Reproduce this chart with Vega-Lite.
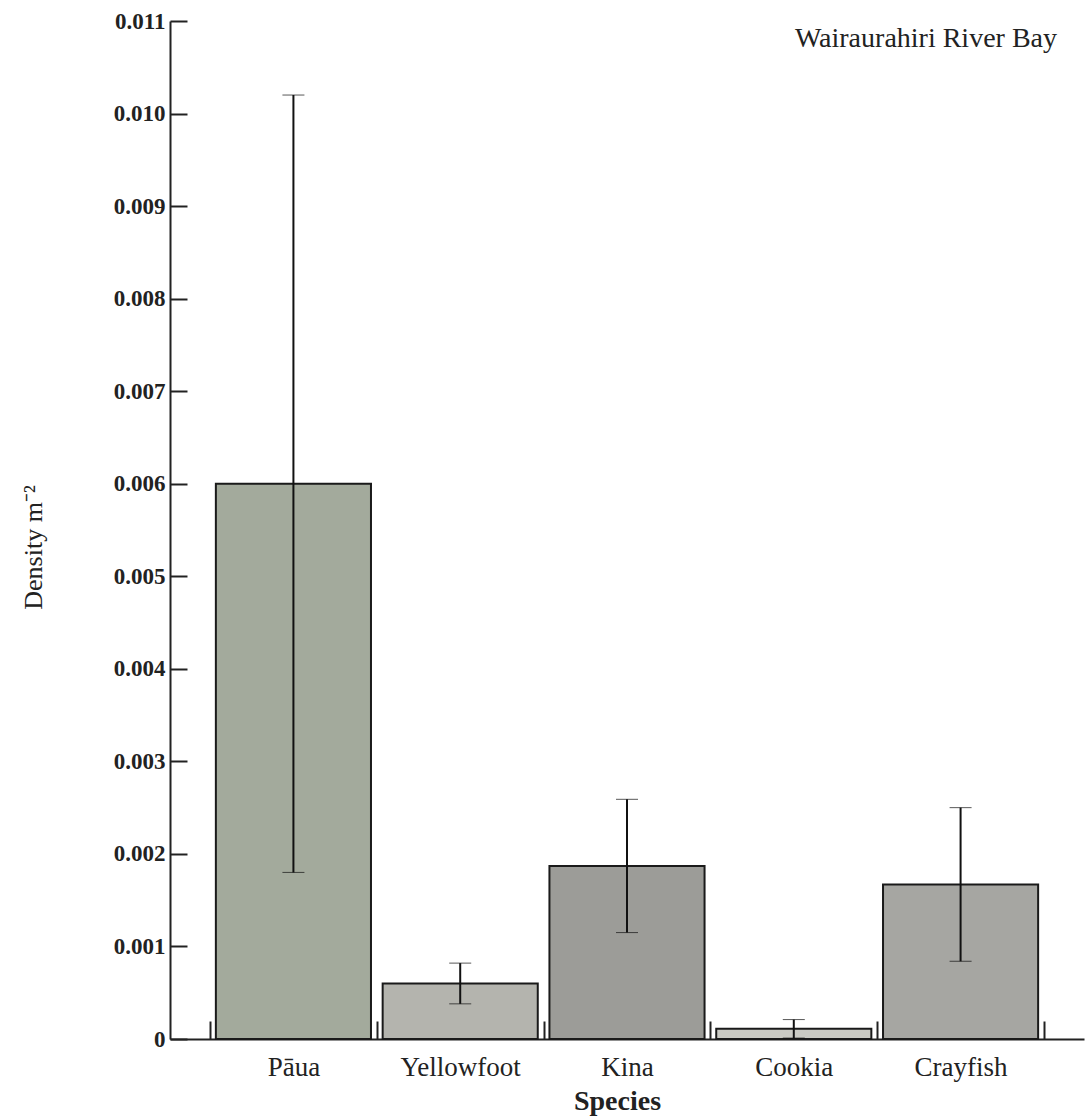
{
  "$schema": "https://vega.github.io/schema/vega-lite/v6.json",
  "width": 914,
  "height": 1018,
  "autosize": {"type": "none"},
  "padding": {"left": 170, "top": 21, "right": 2, "bottom": 79},
  "background": "white",
  "config": {
    "view": {"stroke": null},
    "font": "Liberation Serif",
    "axis": {"grid": false, "domainColor": "#222", "tickColor": "#222", "domainWidth": 2, "tickWidth": 2, "labelColor": "#222", "titleColor": "#222", "labelFont": "Liberation Serif", "titleFont": "Liberation Serif"}
  },
  "title": {
    "text": "Wairaurahiri River Bay",
    "orient": "top",
    "anchor": "end",
    "frame": "group",
    "baseline": "alphabetic",
    "offset": -65,
    "dx": -27,
    "font": "Liberation Serif",
    "fontSize": 28,
    "fontWeight": "normal",
    "color": "#222"
  },
  "data": {
    "values": [
      {"species": "Pāua", "density": 0.0060, "err": 0.0042},
      {"species": "Yellowfoot", "density": 0.00060, "err": 0.00022},
      {"species": "Kina", "density": 0.00187, "err": 0.00072},
      {"species": "Cookia", "density": 0.00011, "err": 0.00010},
      {"species": "Crayfish", "density": 0.00167, "err": 0.00083}
    ]
  },
  "encoding": {
    "x": {
      "field": "species",
      "type": "nominal",
      "sort": null,
      "scale": {"paddingInner": 0, "paddingOuter": 0.24},
      "axis": {
        "title": "Species",
        "titleFontSize": 28,
        "titleFontWeight": "bold",
        "titleBaseline": "alphabetic",
        "titleX": 447,
        "titleY": 70,
        "labelAngle": 0,
        "labelFontSize": 27,
        "labelFontWeight": "normal",
        "tickBand": "extent",
        "tickSize": -18,
        "labelPadding": 54,
        "labelBaseline": "alphabetic"
      }
    }
  },
  "layer": [
    {
      "mark": {"type": "bar", "width": {"band": 0.93}, "stroke": "#1a1a1a", "strokeWidth": 2},
      "encoding": {
        "y": {
          "field": "density",
          "type": "quantitative",
          "title": "Density m⁻²",
          "scale": {"domain": [0, 0.011], "nice": false},
          "axis": {
            "titleFontSize": 26,
            "titleFontWeight": "normal",
            "titleX": -137,
            "titleY": 526,
            "titleAngle": -90,
            "titleBaseline": "middle",
            "values": [0, 0.001, 0.002, 0.003, 0.004, 0.005, 0.006, 0.007, 0.008, 0.009, 0.010, 0.011],
            "labelExpr": "datum.value == 0 ? '0' : format(datum.value, '.3f')",
            "labelFontSize": 23,
            "labelFontWeight": "bold",
            "tickSize": -17,
            "labelPadding": 22
          }
        },
        "color": {
          "field": "species",
          "type": "nominal",
          "legend": null,
          "scale": {
            "domain": ["Pāua", "Yellowfoot", "Kina", "Cookia", "Crayfish"],
            "range": ["#a3aa9c", "#b4b4ae", "#9c9c98", "#cacac4", "#a6a6a2"]
          }
        }
      }
    },
    {
      "mark": {"type": "errorbar", "ticks": {"size": 22, "color": "#111", "strokeWidth": 2}, "rule": {"color": "#111", "strokeWidth": 2}},
      "encoding": {
        "y": {"field": "density", "type": "quantitative", "title": "Density m⁻²"},
        "yError": {"field": "err"}
      }
    }
  ]
}
